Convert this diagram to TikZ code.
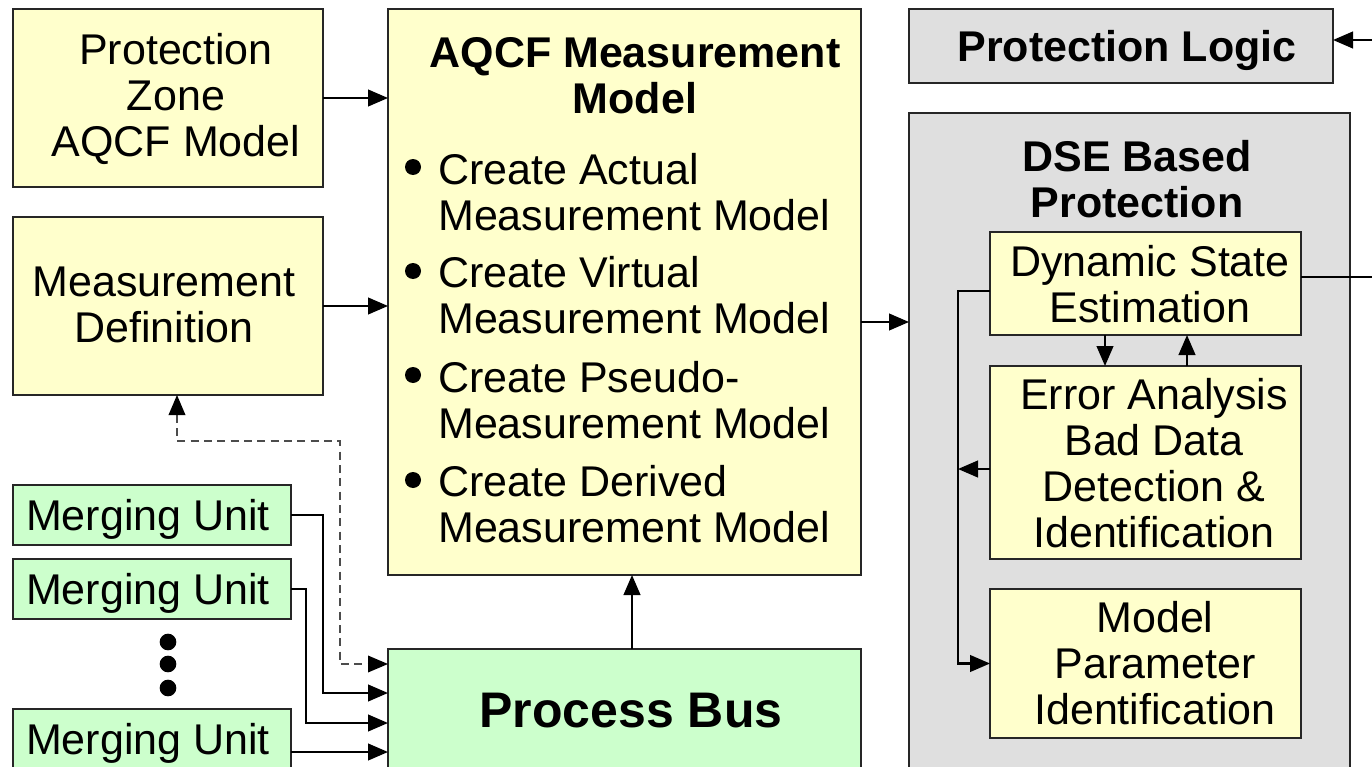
\documentclass[tikz,border=0pt]{standalone}
\usepackage{fontspec}
\setmainfont{Liberation Sans}
\usetikzlibrary{fit,calc,arrows.meta}
\definecolor{ylw}{HTML}{FFFFCC}
\definecolor{grn}{HTML}{CCFFCC}
\definecolor{gry}{HTML}{DFDFDF}
\tikzset{
  box/.style={draw=black!85, line width=1.4pt, inner sep=0pt, outer sep=0pt},
  ybox/.style={box, fill=ylw},
  gbox/.style={box, fill=grn},
  grbox/.style={box, fill=gry},
  txt/.style={inner sep=0pt, align=center, font=\fontsize{32.25}{34.5}\selectfont},
  btxt/.style={txt, font=\fontsize{32.25}{34.5}\selectfont\bfseries},
  ltxt/.style={inner sep=0pt, align=left, anchor=west, font=\fontsize{32.25}{34.5}\selectfont},
  conn/.style={line width=1.6pt, -{Triangle[length=15pt,width=12.5pt]}},
  dconn/.style={line width=1pt, black!70, dash pattern=on 6pt off 4pt, {Triangle[length=15pt,width=12.5pt,black]}-{Triangle[length=15pt,width=12.5pt,black]}},
  dot/.style={circle, fill=black, inner sep=0pt, minimum size=12.5pt}
}
\begin{document}
\begin{tikzpicture}[x=0.75pt,y=-0.75pt]
\clip (0,0) rectangle (1372,767);
\fill[white] (0,0) rectangle (1372,767);
% left boxes
\node[ybox, fit={(13,9) (323,187)}] (pz) {};
\node[txt] (pzt) at (176,99) {Protection\\Zone\\AQCF Model};
\node[ybox, fit={(13,217) (323,395)}] (md) {};
\node[txt] (mdt) at (164,305) {Measurement\\Definition};
\node[gbox, fit={(13,485) (291,545)}] (mu1) {};
\node[txt] (mu1t) at (148,519) {Merging Unit};
\node[gbox, fit={(13,559) (291,619)}] (mu2) {};
\node[txt] (mu2t) at (148,593) {Merging Unit};
\node[gbox, fit={(13,709) (291,797)}] (mu3) {};
\node[txt] (mu3t) at (148,743) {Merging Unit};
\node[dot] (d1) at (168,642) {};
\node[dot] (d2) at (168,664) {};
\node[dot] (d3) at (168,688) {};
% AQCF
\node[ybox, fit={(388,9) (861,575)}] (aqcf) {};
\node[btxt] (aqt) at (635,76) {AQCF Measurement\\Model};
\node[dot, minimum size=12pt] (b1) at (413,167) {};
\node[dot, minimum size=12pt] (b2) at (413,271) {};
\node[dot, minimum size=12pt] (b3) at (413,375) {};
\node[dot, minimum size=12pt] (b4) at (413,480) {};
\node[ltxt] (l1) at (438,192) {Create Actual\\Measurement Model};
\node[ltxt] (l2) at (438,295) {Create Virtual\\Measurement Model};
\node[ltxt] (l3) at (438,400) {Create Pseudo-\\Measurement Model};
\node[ltxt] (l4) at (438,504) {Create Derived\\Measurement Model};
% Process bus
\node[gbox, fit={(388,649) (861,797)}] (pb) {};
\node[txt, font=\fontsize{37.5}{40}\selectfont\bfseries] (pbt) at (631,711) {Process Bus};
% right side
\node[grbox, fit={(909,9) (1333,83)}] (pl) {};
\node[btxt] (plt) at (1127,50) {Protection Logic};
\node[grbox, fit={(909,113) (1350,797)}] (dse) {};
\node[btxt] (dset) at (1137,179) {DSE Based\\Protection};
\node[ybox, fit={(990,232) (1301,335)}] (dsi) {};
\node[txt] (dsit) at (1150,284) {Dynamic State\\Estimation};
\node[ybox, fit={(990,366) (1301,559)}] (ea) {};
\node[txt] (eat) at (1154,463) {Error Analysis\\Bad Data\\Detection \&\\Identification};
\node[ybox, fit={(990,589) (1301,738)}] (mpi) {};
\node[txt] (mpit) at (1155,663) {Model\\Parameter\\Identification};
% connectors
\draw[conn] (pz.east) -- (pz.east -| aqcf.west);
\draw[conn] (md.east) -- (md.east -| aqcf.west);
\coordinate (a1) at ($(aqcf.east)+(0,30)$);
\draw[conn] (a1) -- (a1 -| dse.west);
\draw[conn] ($(pb.north)+(7.5,0)$) -- ($(aqcf.south)+(7.5,0)$);
\coordinate (o1) at (1395,277);
\coordinate (o2) at (1395,40);
\draw[conn] ($(dsi.east)+(0,-6.5)$) -- (o1) -- (o2) -- ($(pl.east)+(0,-6)$);
\coordinate (lv) at (958,291);
\draw[conn] ($(dsi.west)+(0,7.5)$) -- (lv) |- (mpi.west);
\draw[conn] ($(ea.west)+(0,6.5)$) -- ($(ea.west)+(-32,6.5)$);
\draw[conn] ($(dsi.south)+(-40.5,0)$) -- ($(dsi.south)+(-40.5,31)$);
\draw[conn] ($(ea.north)+(41.5,0)$) -- ($(ea.north)+(41.5,-31)$);
% dashed
\coordinate (c1) at (177,441);
\coordinate (c2) at (340,441);
\coordinate (c3) at (340,664);
\draw[dconn] ($(md.south)+(9,0)$) -- (c1) -- (c2) -- (c3) -- (c3 -| pb.west);
% merging unit connectors
\coordinate (m1) at (323,693);
\coordinate (m2) at (306,723);
\draw[conn] (mu1.east |- 0,515) -| (m1) -- (m1 -| pb.west);
\draw[conn] (mu2.east |- 0,589) -| (m2) -- (m2 -| pb.west);
\coordinate (m3) at (291,752);
\draw[conn] (m3) -- (m3 -| pb.west);
\end{tikzpicture}
\end{document}
